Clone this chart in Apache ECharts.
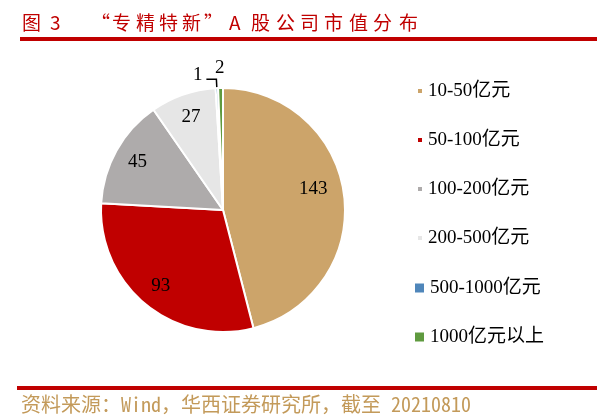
<!DOCTYPE html>
<html>
<head>
<meta charset="utf-8">
<script src="https://cdn.jsdelivr.net/npm/echarts@6/dist/echarts.min.js"></script>
<style>
html,body{margin:0;padding:0;background:#fff;}
#chart{width:600px;height:419px;}
</style>
</head>
<body>
<div id="chart"></div>
<script>
const categories = ['10-50亿元', '50-100亿元', '100-200亿元', '200-500亿元', '500-1000亿元', '1000亿元以上'];
const values = [143, 93, 45, 27, 1, 2];
const colors = ['#CCA46A', '#C00000', '#AEABAB', '#E6E6E6', '#4F86BA', '#5F9A3F'];
const titleChars = ['图', '3', '“', '专', '精', '特', '新', '”', 'A', '股', '公', '司', '市', '值', '分', '布'];
const sourceText = '资料来源：Wind，华西证券研究所，截至 20210810';

const chart = echarts.init(document.getElementById('chart'), null, {renderer: 'canvas'});
const serif = '"Liberation Serif", "Times New Roman", "Noto Sans CJK SC", serif';

// horizontal layout of title glyphs (left edges, px)
const titleX = [22, 50, 91, 112, 136, 159, 182, 204, 229, 251, 276, 300, 324, 349, 373, 399];
const titleGraphics = titleChars.map((ch, i) => ({
  type: 'text', x: titleX[i], y: 23,
  style: {text: ch, fill: '#C00000', font: '19px "Noto Sans CJK SC", sans-serif', textVerticalAlign: 'middle', verticalAlign: 'middle'}
}));

const mainData = categories.map((c, i) => {
  const d = {name: c, value: values[i], itemStyle: {color: colors[i]}};
  if (i < 4) {
    d.label = {show: false};
    d.labelLine = {show: false};
  } else if (i === 4) {
    d.label = {show: true, position: 'outside', offset: [-2, -4]};
    d.labelLine = {show: true, length: 9, length2: 10, lineStyle: {color: '#000', width: 1.5}};
  } else {
    d.label = {show: true, position: 'outside', offset: [6, -14]};
    d.labelLine = {show: false, length: 6, length2: 0};
  }
  return d;
});

const labelData = categories.map((c, i) => {
  const d = {name: c, value: values[i], itemStyle: {color: 'rgba(0,0,0,0)'}, label: {show: i < 4}};
  if (i === 0) d.label.offset = [-7, -9];
  return d;
});

chart.setOption({
  animation: false,
  color: colors,
  graphic: titleGraphics.concat([
    {type: 'rect', shape: {x: 20, y: 37, width: 577, height: 4}, style: {fill: '#C00000'}},
    {type: 'rect', shape: {x: 17, y: 386, width: 580, height: 4}, style: {fill: '#C00000'}},
    {type: 'text', x: 21, y: 404, style: {text: sourceText, fill: '#C39A5A', font: '20px "Noto Sans Mono CJK SC", "Noto Sans CJK SC", monospace', textVerticalAlign: 'middle', verticalAlign: 'middle'}}
  ]),
  legend: [
    {
      data: categories.slice(0, 4), orient: 'vertical', left: 411, top: 76,
      itemWidth: 6, itemHeight: 6, itemGap: 29, itemTextGap: 8, icon: 'rect',
      textStyle: {fontFamily: serif, fontSize: 19, color: '#000', lineHeight: 20}
    },
    {
      data: categories.slice(4), orient: 'vertical', left: 408, top: 273,
      itemWidth: 11, itemHeight: 11, itemGap: 29, itemTextGap: 6, icon: 'rect',
      textStyle: {fontFamily: serif, fontSize: 19, color: '#000', lineHeight: 20}
    }
  ],
  series: [
    {
      type: 'pie', center: [223, 210], radius: [0, 122], startAngle: 90, clockwise: true,
      avoidLabelOverlap: false, silent: true,
      itemStyle: {borderColor: '#fff', borderWidth: 2},
      label: {color: '#000', fontFamily: serif, fontSize: 19, formatter: '{c}', distanceToLabelLine: 2},
      data: mainData
    },
    {
      type: 'pie', center: [223, 210], radius: [0, 190], startAngle: 90, clockwise: true,
      avoidLabelOverlap: false, silent: true, z: 5,
      itemStyle: {color: 'rgba(0,0,0,0)'},
      labelLine: {show: false},
      label: {position: 'inside', color: '#000', fontFamily: serif, fontSize: 19, formatter: '{c}'},
      data: labelData
    }
  ]
});
</script>
</body>
</html>
